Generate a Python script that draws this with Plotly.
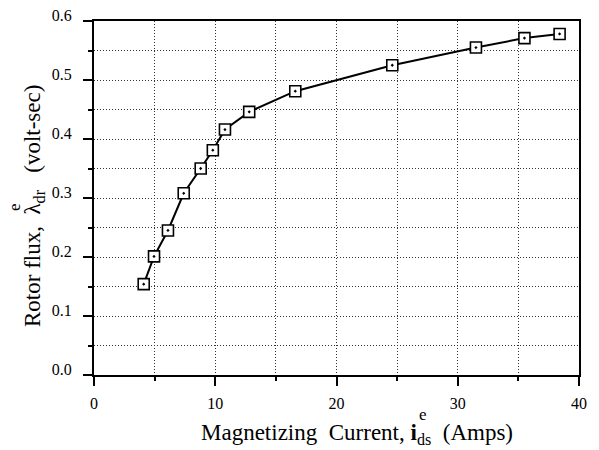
import plotly.graph_objects as go

# Data
magnetizing_current = [4.1, 4.95, 6.1, 7.4, 8.8, 9.8, 10.8, 12.8, 16.6, 24.6, 31.5, 35.5, 38.4]
rotor_flux = [0.154, 0.201, 0.245, 0.308, 0.350, 0.381, 0.416, 0.446, 0.481, 0.525, 0.555, 0.571, 0.578]

x_ticks = [0, 10, 20, 30, 40]
y_ticks = [0.0, 0.1, 0.2, 0.3, 0.4, 0.5, 0.6]

x_title = "Magnetizing&nbsp;&nbsp;Current,&nbsp;<b>i</b><sub>ds</sub>&nbsp;&nbsp;(Amps)"
y_title = "Rotor flux,&nbsp;&nbsp;λ<sub>dr</sub>&nbsp;&nbsp;&nbsp;(volt-sec)"
superscript = "e"

FONT = "Liberation Serif, Times New Roman, serif"

# figure geometry (pixels)
W, H = 599, 450
L, R, T, B = 94, 20, 21, 75
PW, PH = W - L - R, H - T - B


def px_x(px):
    return (px - L) / PW


def px_y(py):
    return (H - B - py) / PH


fig = go.Figure()
fig.add_trace(go.Scatter(
    x=magnetizing_current, y=rotor_flux,
    mode="lines+markers",
    line=dict(color="black", width=2),
    marker=dict(symbol="square-dot", size=11, color="white",
                line=dict(color="black", width=1.6)),
    showlegend=False,
))

grid = dict(gridcolor="#333", griddash="1px,2px", gridwidth=1)
axis_common = dict(
    showline=True, linecolor="black", linewidth=2, mirror=True,
    ticks="outside", ticklen=9, tickwidth=1.5, tickcolor="black",
    showgrid=True, zeroline=False,
    tickfont=dict(family=FONT, size=16, color="black"),
    **grid,
)

fig.update_xaxes(
    range=[0, 40], tickvals=x_ticks, ticktext=[str(v) for v in x_ticks],
    minor=dict(dtick=5, ticks="outside", ticklen=4, tickcolor="black",
               showgrid=True, **grid),
    ticklabelstandoff=4,
    **axis_common,
)
fig.update_yaxes(
    range=[0, 0.6], tickvals=y_ticks, ticktext=[f"{v:.1f}" for v in y_ticks],
    minor=dict(dtick=0.05, ticks="outside", ticklen=4, tickcolor="black",
               showgrid=True, **grid),
    ticklabelstandoff=8,
    ticklabelshift=-6,
    **axis_common,
)

tfont = dict(family=FONT, size=23, color="black")
sfont = dict(family=FONT, size=17, color="black")
annotations = [
    dict(text=x_title, x=px_x(357), y=px_y(434), xref="paper", yref="paper",
         xanchor="center", yanchor="middle", showarrow=False, font=tfont),
    dict(text=superscript, x=px_x(423), y=px_y(414), xref="paper", yref="paper",
         xanchor="center", yanchor="middle", showarrow=False, font=sfont),
    dict(text=y_title, x=px_x(34), y=px_y(206), xref="paper", yref="paper",
         xanchor="center", yanchor="middle", showarrow=False, font=tfont,
         textangle=-90),
    dict(text=superscript, x=px_x(15), y=px_y(207), xref="paper", yref="paper",
         xanchor="center", yanchor="middle", showarrow=False, font=sfont,
         textangle=-90),
]

fig.update_layout(
    width=W, height=H,
    margin=dict(l=L, r=R, t=T, b=B, autoexpand=False),
    plot_bgcolor="white", paper_bgcolor="white",
    font=dict(family=FONT, color="black"),
    annotations=annotations,
)

fig.write_html("out.html")
